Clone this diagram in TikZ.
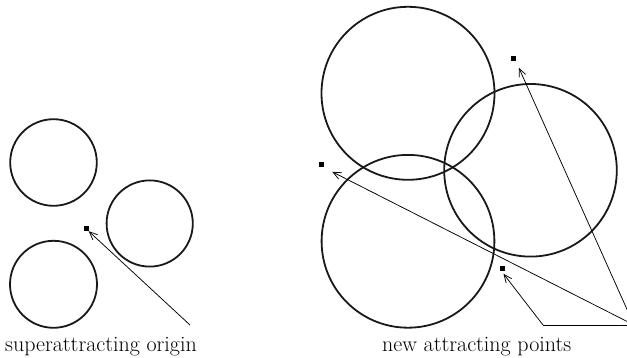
\documentclass[tikz,border=0pt]{standalone}
\usetikzlibrary{arrows.meta}
\begin{document}
\begin{tikzpicture}[x=1pt,y=-1pt,
  ring/.style={draw=black!90,line width=1.8pt},
  pt/.style={fill=black,minimum size=5pt,inner sep=0pt,draw=none,rectangle},
  ptr/.style={line width=0.75pt,-{Straight Barb[length=8pt,width=7pt,line width=0.75pt]}},
  lbl/.style={font=\fontsize{22}{25}\selectfont,anchor=base}]
\useasboundingbox (0,0) rectangle (627,358);
\clip (0,0) rectangle (627,358);
% left
\draw[ring] (53.5,162.5) circle (43.3);
\draw[ring] (149.7,223.5) circle (43.1);
\draw[ring] (53.5,284.3) circle (43.5);
\node[pt] (o) at (86,228.5) {};
\coordinate (ot) at (190,325);
\draw[ptr] (ot) -- (o.south east);
\node[lbl] (l1) at (101,352) {superattracting origin};
% right
\draw[ring] (408,93.3) circle (86.5);
\draw[ring] (530.5,170.3) circle (86.3);
\draw[ring] (408,241.3) circle (86.4);
\node[pt] (p1) at (513.3,58.7) {};
\node[pt] (p2) at (321.7,164.3) {};
\node[pt] (p3) at (502,268.3) {};
\coordinate (c) at (634,325);
\coordinate (k) at (543,325);
\draw[line width=0.75pt] (c) -- (k);
\draw[ptr] (k) -- ([shift={(1.5,5.5)}]p3.center);
\draw[ptr] (c) -- ([shift={(5.5,9)}]p1.center);
\draw[ptr] (c) -- ([shift={(10.5,7.5)}]p2.center);
\node[lbl] (l2) at (476.7,352) {new attracting points};
\end{tikzpicture}
\end{document}
